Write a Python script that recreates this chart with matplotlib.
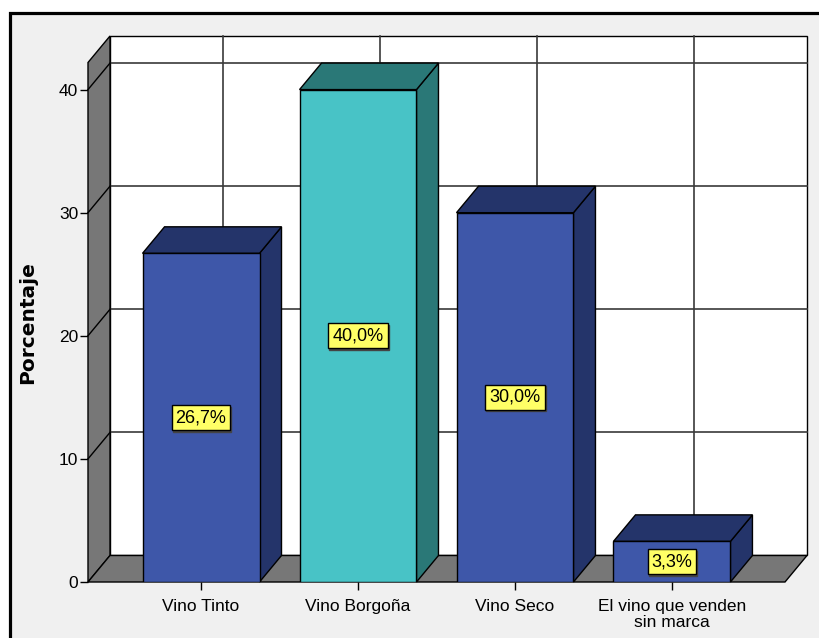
import matplotlib
matplotlib.use('Agg')
import matplotlib.pyplot as plt
from matplotlib.patches import Polygon, Rectangle
import matplotlib.transforms as mtransforms

plt.rcParams['font.family'] = ['Liberation Sans', 'DejaVu Sans']
FS = 12.5

categories = ["Vino Tinto", "Vino Borgoña", "Vino Seco", "El vino que venden\nsin marca"]
values = [26.7, 40.0, 30.0, 3.3]
yticks = [0, 10, 20, 30, 40]
front_colors = ['#3e57a9', '#48c3c6', '#3e57a9', '#3e57a9']
dark_colors = ['#24346a', '#2a7877', '#24346a', '#24346a']

W, H = 819, 638
fig = plt.figure(figsize=(W / 100, H / 100), dpi=100)
fig.patch.set_facecolor('white')
frame = Rectangle((9.5 / W, -0.1), 1.2, (H - 13.5) / H + 0.1, transform=fig.transFigure,
                  fc='#f0f0f0', ec='black', lw=2.3, zorder=-5)
fig.patches.append(frame)

ax = fig.add_axes([88 / W, (H - 582) / H, 697 / W, 519.5 / H])
XMIN, XMAX, YMAX = -0.72, 3.72, 42.2
ax.set_xlim(XMIN, XMAX)
ax.set_ylim(0, YMAX)
ax.patch.set_visible(False)
for s in ax.spines.values():
    s.set_visible(False)

DX = 22 / 157.0
DY = 26.5 / 12.31
BW = 0.745
GRID = '#3a3a3a'
GREY = '#777777'

# back wall
ax.add_patch(Rectangle((XMIN + DX, DY), XMAX - XMIN, YMAX, fc='white', ec='black',
                       lw=1.0, zorder=1, clip_on=False))
for v in yticks[1:]:
    ax.plot([XMIN + DX, XMAX + DX], [v + DY, v + DY], color=GRID, lw=1.2, zorder=1.5, clip_on=False)
for i in range(len(categories)):
    ax.plot([i + DX, i + DX], [DY, YMAX + DY], color=GRID, lw=1.2, zorder=1.5, clip_on=False)

# left wall
ax.add_patch(Polygon([(XMIN, 0), (XMIN + DX, DY), (XMIN + DX, YMAX + DY), (XMIN, YMAX)],
                     closed=True, fc=GREY, ec='black', lw=1.0, zorder=2, clip_on=False))
for v in yticks[1:]:
    ax.plot([XMIN, XMIN + DX], [v, v + DY], color='black', lw=1.0, zorder=2.1, clip_on=False)
# floor
ax.add_patch(Polygon([(XMIN, 0), (XMIN + DX, DY), (XMAX + DX, DY), (XMAX, 0)],
                     closed=True, fc=GREY, ec='black', lw=1.0, zorder=2, clip_on=False))

# bars
for i, (v, fc, dc) in enumerate(zip(values, front_colors, dark_colors)):
    x0, x1 = i - BW / 2, i + BW / 2
    z = 3 + i * 0.1
    ax.add_patch(Polygon([(x1, 0), (x1 + DX, DY), (x1 + DX, v + DY), (x1, v)],
                         closed=True, fc=dc, ec='black', lw=1.0, zorder=z, clip_on=False))
    ax.add_patch(Polygon([(x0, v), (x0 + DX, v + DY), (x1 + DX, v + DY), (x1, v)],
                         closed=True, fc=dc, ec='black', lw=1.0, zorder=z, clip_on=False))
    ax.bar(i, v, width=BW, color=fc, edgecolor='black', linewidth=1.0, zorder=z + 0.05)

# value labels
shadow_tr = mtransforms.offset_copy(ax.transData, fig=fig, x=1.0, y=-1.5, units='dots')
for i, v in enumerate(values):
    txt = f"{v:.1f}".replace('.', ',') + '%'
    ax.text(i, v / 2, txt, ha='center', va='center', fontsize=13, color='none',
            transform=shadow_tr, zorder=9,
            bbox=dict(boxstyle='square,pad=0.22', fc='#444444', ec='#444444', lw=1.0))
    ax.text(i, v / 2, txt, ha='center', va='center', fontsize=13, color='black', zorder=10,
            bbox=dict(boxstyle='square,pad=0.22', fc='#ffff66', ec='black', lw=1.0))

# axes ticks
ax.set_yticks(yticks)
ax.set_yticklabels([str(t) for t in yticks])
ax.tick_params(axis='y', length=6, width=1.0, color='black', pad=1, labelsize=FS)
ax.set_xticks(range(len(categories)))
ax.set_xticklabels(categories, linespacing=1.15)
ax.tick_params(axis='x', length=6, width=1.0, color='black', pad=6, labelsize=FS)

ax.set_ylabel('Porcentaje', fontsize=14.5, fontweight='bold', family='DejaVu Sans')
ax.yaxis.set_label_coords((37 - 88) / 697, 0.5)

fig.savefig('out.png', dpi=100)
